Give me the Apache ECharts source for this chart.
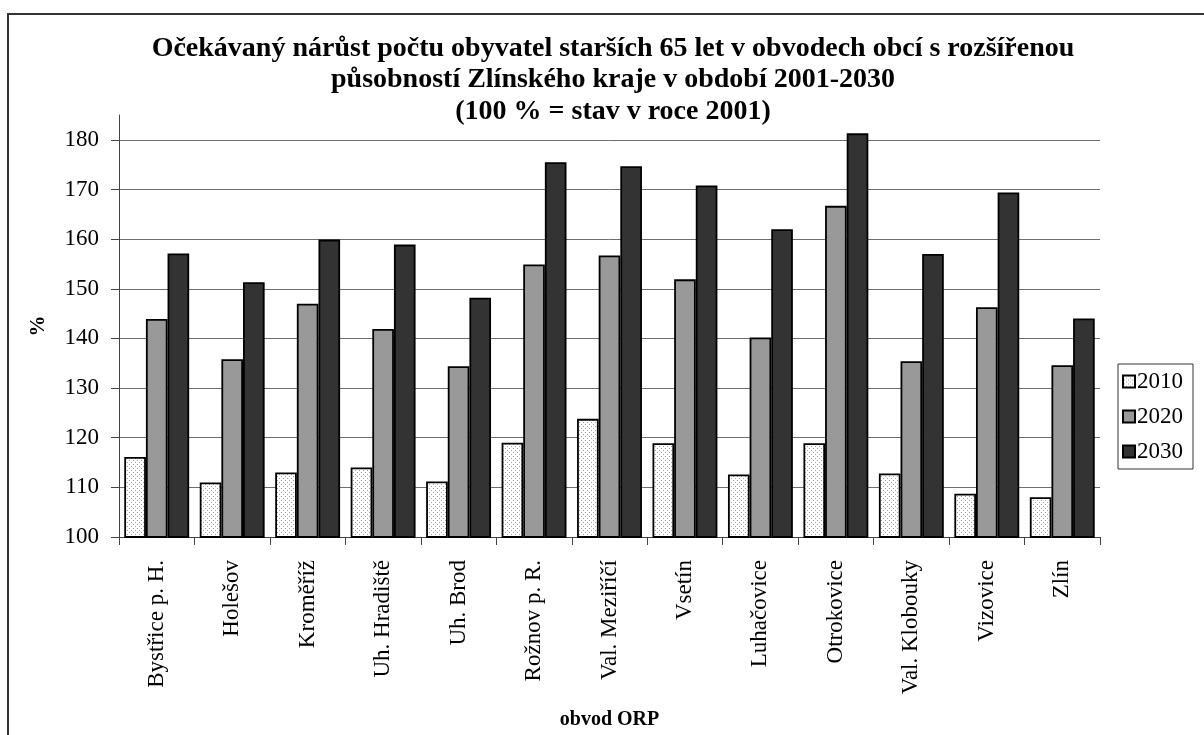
<!DOCTYPE html>
<html>
<head>
<meta charset="utf-8">
<script src="https://cdn.jsdelivr.net/npm/echarts@6/dist/echarts.min.js"></script>
<style>
html,body{margin:0;padding:0;background:#fff;}
#chart{width:1204px;height:735px;}
</style>
</head>
<body>
<div id="chart"></div>
<script>
const categories = ['Bystřice p. H.','Holešov','Kroměříž','Uh. Hradiště','Uh. Brod','Rožnov p. R.','Val. Meziříčí','Vsetín','Luhačovice','Otrokovice','Val. Klobouky','Vizovice','Zlín'];
const seriesNames = ['2010','2020','2030'];
const values2010 = [116.1,111.0,113.0,114.0,111.2,119.0,123.8,118.9,112.6,118.9,112.8,108.7,108.0];
const values2020 = [143.9,135.8,147.0,141.9,134.4,154.9,156.7,151.9,140.2,166.7,135.4,146.3,134.6];
const values2030 = [157.1,151.3,159.9,158.9,148.2,175.5,174.7,170.8,162.0,181.3,157.0,169.4,144.0];
const yTicks = [100,110,120,130,140,150,160,170,180];

const FONT = "'Liberation Serif','Times New Roman',serif";

// dotted pattern for 2010
const pc = document.createElement('canvas');
pc.width = 4; pc.height = 4;
const pctx = pc.getContext('2d');
pctx.fillStyle = '#ffffff'; pctx.fillRect(0,0,4,4);
pctx.fillStyle = '#a0a0a0';
pctx.fillRect(1,0,1,1);
pctx.fillRect(3,2,1,1);

const chart = echarts.init(document.getElementById('chart'));
const barStyle = (c) => ({color: c, borderColor: '#000', borderWidth: 1.8});
chart.setOption({
  animation: false,
  backgroundColor: '#fff',
  title: {
    text: 'Očekávaný nárůst počtu obyvatel starších 65 let v obvodech obcí s rozšířenou\npůsobností Zlínského kraje v období 2001-2030\n(100 % = stav v roce 2001)',
    left: 608, top: 28, textAlign: 'center',
    textStyle: {fontFamily: FONT, fontWeight: 'bold', fontSize: 28, lineHeight: 31.5, color: '#000'}
  },
  graphic: [{
    type: 'rect', shape: {x: 8, y: 14, width: 1300, height: 900},
    style: {fill: 'none', stroke: '#333', lineWidth: 2}, z: -1
  }],
  legend: {
    orient: 'vertical', left: 1118, top: 364,
    itemWidth: 12, itemHeight: 12, itemGap: 12,
    padding: [6, 10, 6, 4],
    borderColor: '#333', borderWidth: 1,
    icon: 'rect',
    textStyle: {fontFamily: FONT, fontSize: 23, color: '#000', padding: [0,0,0,-3]},
    data: seriesNames
  },
  grid: {left: 119, right: 104, top: 115, bottom: 190, containLabel: false},
  xAxis: {
    type: 'category', data: categories,
    name: 'obvod ORP', nameLocation: 'middle', nameGap: 173,
    nameTextStyle: {fontFamily: FONT, fontWeight: 'bold', fontSize: 20, color: '#000'},
    axisLine: {lineStyle: {color: '#444', width: 1}},
    axisTick: {show: true, length: 8, lineStyle: {color: '#444'}},
    axisLabel: {rotate: 90, margin: 23, fontFamily: FONT, fontSize: 23, color: '#000', interval: 0}
  },
  yAxis: {
    type: 'value', min: 100, max: 185, interval: 10,
    name: '%', nameLocation: 'middle', nameGap: 70, nameRotate: 90,
    nameTextStyle: {fontFamily: FONT, fontWeight: 'bold', fontSize: 21, color: '#000'},
    axisLine: {show: true, lineStyle: {color: '#444', width: 1}},
    axisTick: {show: true, length: 8, lineStyle: {color: '#444'}, customValues: yTicks},
    axisLabel: {fontFamily: FONT, fontSize: 23, color: '#000', margin: 20, customValues: yTicks},
    splitLine: {show: true, lineStyle: {color: '#6e6e6e', width: 1}}
  },
  series: [
    {name: seriesNames[0], type: 'bar', data: values2010, barGap: '0%', barCategoryGap: '14%',
     itemStyle: barStyle({image: pc, repeat: 'repeat'})},
    {name: seriesNames[1], type: 'bar', data: values2020, barGap: '0%', barCategoryGap: '14%',
     itemStyle: barStyle('#999999')},
    {name: seriesNames[2], type: 'bar', data: values2030, barGap: '0%', barCategoryGap: '14%',
     itemStyle: barStyle('#333333')}
  ]
});
</script>
</body>
</html>
